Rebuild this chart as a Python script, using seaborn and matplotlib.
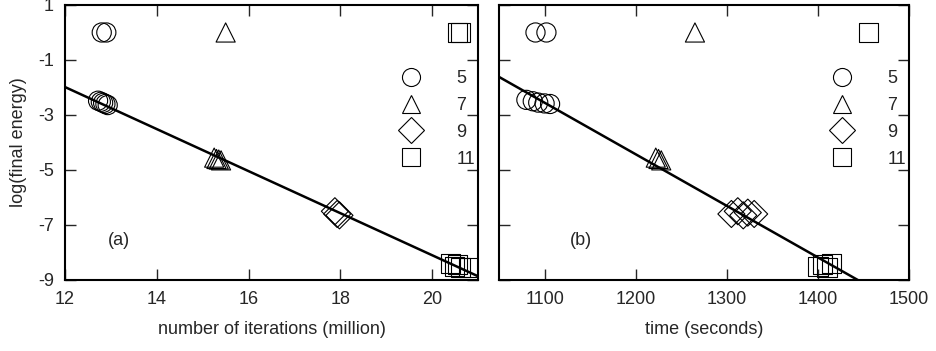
import numpy as np
import pandas as pd
import matplotlib
matplotlib.use('Agg')
import matplotlib.pyplot as plt
from matplotlib.lines import Line2D
import seaborn as sns

# 資料 (a): 迭代次數 (million)
iter_x = [12.72, 12.78, 12.83, 12.88, 12.93, 12.80, 12.90,
          15.25, 15.30, 15.35, 15.40, 15.50,
          17.88, 17.93, 17.98,
          20.40, 20.48, 20.55, 20.62, 20.80, 20.55, 20.62]
iter_y = [-2.48, -2.52, -2.56, -2.60, -2.64, 0.0, 0.0,
          -4.55, -4.60, -4.62, -4.65, 0.0,
          -6.50, -6.60, -6.65,
          -8.40, -8.50, -8.45, -8.55, -8.55, 0.0, 0.0]
iter_n = [5] * 7 + [7] * 5 + [9] * 3 + [11] * 7

# 資料 (b): 時間 (seconds)
time_x = [1080, 1087, 1093, 1100, 1106, 1090, 1102,
          1222, 1225, 1228, 1265,
          1305, 1312, 1318, 1323, 1330,
          1400, 1405, 1410, 1415, 1455]
time_y = [-2.45, -2.50, -2.55, -2.58, -2.60, 0.0, 0.0,
          -4.55, -4.60, -4.65, 0.0,
          -6.60, -6.50, -6.65, -6.55, -6.60,
          -8.50, -8.45, -8.55, -8.40, 0.0]
time_n = [5] * 7 + [7] * 4 + [9] * 5 + [11] * 5

sizes = [5, 7, 9, 11]
marker_map = {5: 'o', 7: '^', 9: 'D', 11: 's'}

sns.set_theme(style='ticks')
plt.rcParams['font.family'] = ['Liberation Sans', 'DejaVu Sans']
plt.rcParams['axes.unicode_minus'] = False

fig = plt.figure(figsize=(9.37, 3.51), dpi=100)
ax1 = fig.add_axes([0.0694, 0.2023, 0.4408, 0.7835])
ax2 = fig.add_axes([0.5326, 0.2023, 0.4376, 0.7835])

panels = [
    (ax1, iter_x, iter_y, iter_n, (12, 21), [12, 14, 16, 18, 20],
     'number of iterations (million)', '(a)', 12.93),
    (ax2, time_x, time_y, time_n, (1050, 1500), [1100, 1200, 1300, 1400, 1500],
     'time (seconds)', '(b)', 1128),
]

for ax, xs, ys, ns, xlim, xticks, xlabel, tag, tag_x in panels:
    df = pd.DataFrame({'x': xs, 'y': ys, 'n': ns})
    for n in sizes:
        sub = df[df['n'] == n]
        sns.scatterplot(data=sub, x='x', y='y', marker=marker_map[n], s=190,
                        facecolor='none', edgecolor='black', linewidth=0.8,
                        ax=ax, legend=False)
    # 趨勢線 (只用收斂的點)
    conv = df[df['y'] < -1]
    z = np.polyfit(conv['x'], conv['y'], 1)
    p = np.poly1d(z)
    xx = np.array(xlim, dtype=float)
    ax.plot(xx, p(xx), color='black', lw=1.8)

    ax.set_xlim(*xlim)
    ax.set_ylim(-9, 1)
    ax.set_xticks(xticks)
    ax.set_yticks([1, -1, -3, -5, -7, -9])
    ax.set_xlabel(xlabel, fontsize=13, labelpad=9)
    ax.set_ylabel('')
    ax.tick_params(direction='in', length=8, width=1, top=True, right=True,
                   labelsize=13, pad=8)
    for sp in ax.spines.values():
        sp.set_linewidth(1.5)
        sp.set_color('black')
    ax.text(tag_x, -7.55, tag, fontsize=13, va='center')

    handles = [Line2D([], [], ls='none', marker=marker_map[n], ms=13,
                      mfc='none', mec='black', mew=0.8) for n in sizes]
    ax.legend(handles, [str(n) for n in sizes], loc='upper right',
              bbox_to_anchor=(1.01, 0.79), frameon=False, fontsize=13,
              handletextpad=1.5, labelspacing=0.55, borderaxespad=0)

ax1.set_ylabel('log(final energy)', fontsize=13, labelpad=8)
ax2.set_yticklabels([])

fig.savefig('out.png', dpi=100)
